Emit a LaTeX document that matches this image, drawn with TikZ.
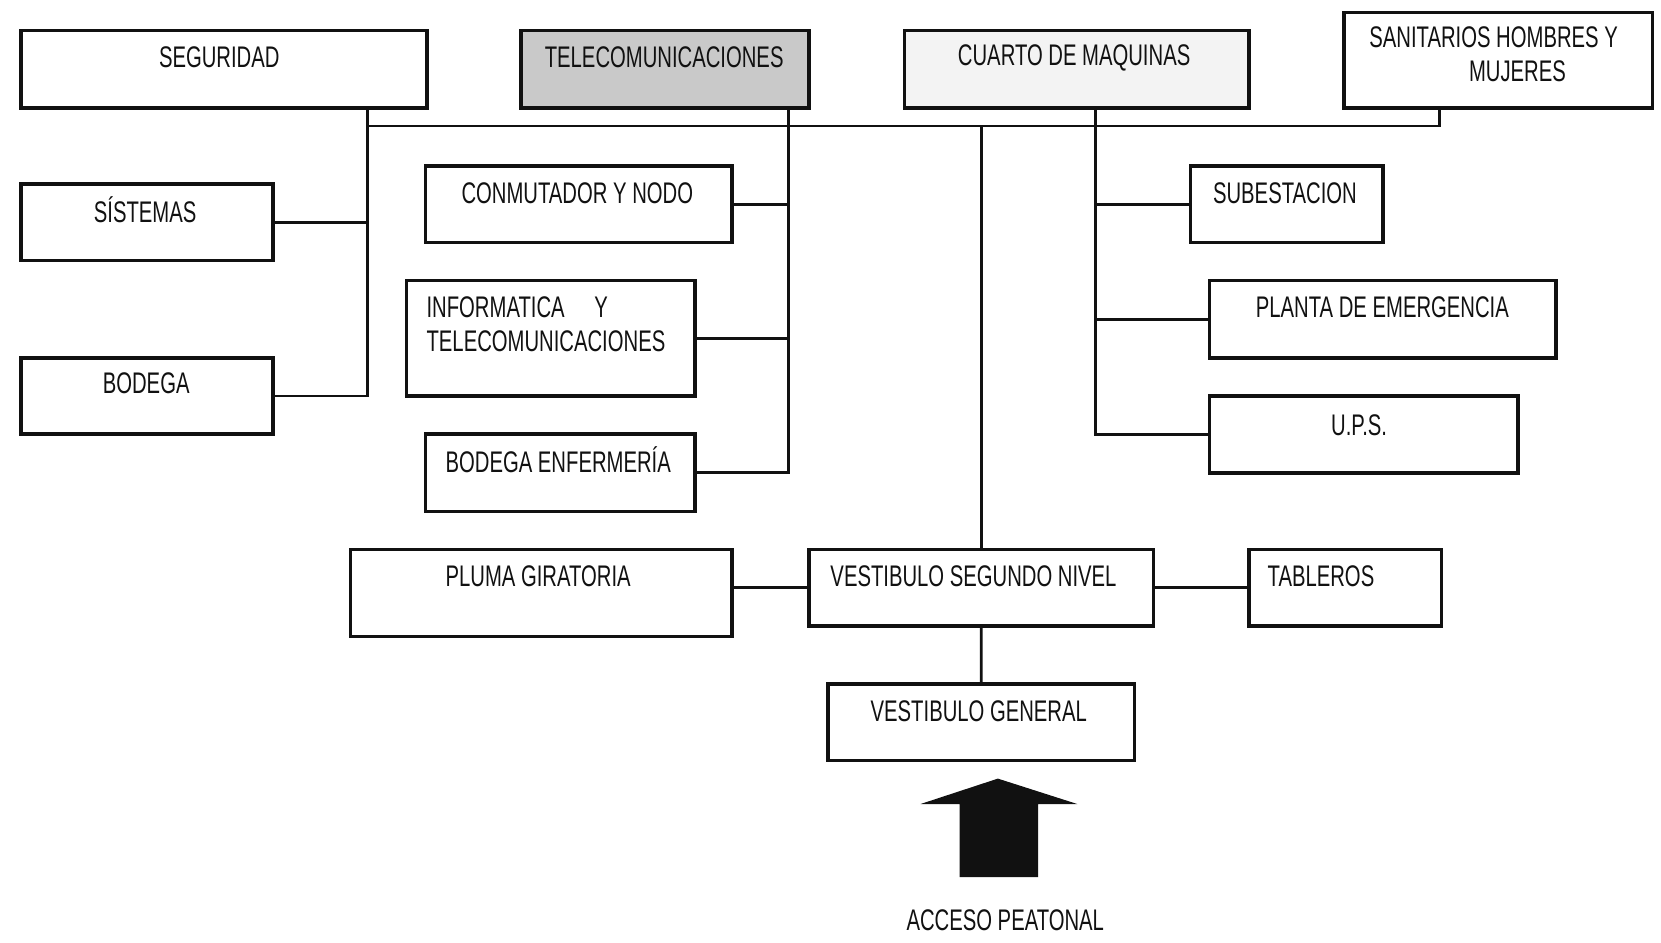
\documentclass[tikz,border=0pt]{standalone}
\usepackage{fontspec}
\setmainfont{Liberation Sans}[FakeStretch=0.68]
\usepackage{tikz}
\usetikzlibrary{positioning,calc}
\definecolor{ink}{HTML}{111111}
\definecolor{stippleD}{HTML}{C9C9C9}
\definecolor{stippleL}{HTML}{F3F3F3}
\begin{document}
\begin{tikzpicture}[x=0.01cm,y=-0.01cm,
    box/.style={draw=ink,line width=1pt,anchor=north west,inner sep=0pt},
    wire/.style={draw=ink,line width=0.75pt},
    lbl/.style={font=\fontsize{8}{9.2}\selectfont,text=ink,inner sep=0pt},
    entry/.style={fill=ink}
]
\useasboundingbox (0,0) rectangle (1568,890);
% boxes
\node[box,minimum width=3.83cm,minimum height=0.73cm] (seg) at (18,27) {};
\node[box,fill=stippleD,minimum width=2.72cm,minimum height=0.73cm] (tel) at (490,27) {};
\node[box,fill=stippleL,minimum width=3.25cm,minimum height=0.73cm] (cua) at (852,27) {};
\node[box,minimum width=2.91cm,minimum height=0.90cm] (san) at (1267,10) {};
\node[box,minimum width=2.38cm,minimum height=0.72cm] (sis) at (18,172) {};
\node[box,minimum width=2.38cm,minimum height=0.72cm] (bod) at (18,336) {};
\node[box,minimum width=2.89cm,minimum height=0.72cm] (con) at (400,155) {};
\node[box,minimum width=2.72cm,minimum height=1.09cm] (inf) at (382,263) {};
\node[box,minimum width=2.54cm,minimum height=0.73cm] (bde) at (400,408) {};
\node[box,minimum width=1.82cm,minimum height=0.72cm] (sub) at (1122,155) {};
\node[box,minimum width=3.27cm,minimum height=0.73cm] (pla) at (1140,263) {};
\node[box,minimum width=2.91cm,minimum height=0.73cm] (ups) at (1140,372) {};
\node[box,minimum width=3.60cm,minimum height=0.82cm] (plu) at (329,517) {};
\node[box,minimum width=3.25cm,minimum height=0.72cm] (vs2) at (762,517) {};
\node[box,minimum width=1.82cm,minimum height=0.72cm] (tab) at (1177,517) {};
\node[box,minimum width=2.89cm,minimum height=0.72cm] (vge) at (780,644) {};
% texts
\node[lbl] (segT) at (207,54) {SEGURIDAD};
\node[lbl] (telT) at (627,54) {TELECOMUNICACIONES};
\node[lbl] (cuaT) at (1014,55) {CUARTO DE MAQUINAS};
\node[lbl,align=center] (sanT) at (1410,51) {SANITARIOS HOMBRES Y\\\hspace*{1.6em}MUJERES};
\node[lbl] (sisT) at (137,198) {SÍSTEMAS};
\node[lbl] (bodT) at (138,362) {BODEGA};
\node[lbl] (conT) at (545,182) {CONMUTADOR Y NODO};
\node[lbl,align=left,anchor=west] (infT) at (402,306) {INFORMATICA\quad Y\\TELECOMUNICACIONES};
\node[lbl] (bdeT) at (527,434) {BODEGA ENFERMERÍA};
\node[lbl] (subT) at (1213,182) {SUBESTACION};
\node[lbl] (plaT) at (1305,290) {PLANTA DE EMERGENCIA};
\node[lbl] (upsT) at (1283,401) {U.P.S.};
\node[lbl] (pluT) at (508,544) {PLUMA GIRATORIA};
\node[lbl] (vs2T) at (919,544) {VESTIBULO SEGUNDO NIVEL};
\node[lbl] (tabT) at (1247,544) {TABLEROS};
\node[lbl] (vgeT) at (924,671) {VESTIBULO GENERAL};
\node[lbl] (accT) at (949,869) {ACCESO PEATONAL};
% connectors
\coordinate (busL) at (347,119);
\coordinate (busR) at (1359,119);
\coordinate (telx) at (744,119);
\coordinate (cuax) at (1034,119);
\draw[wire] (busL) -- (busR) -- (busR |- san.south);
\draw[wire] (busL |- seg.south) -- (busL |- bod.east) -- (bod.east);
\draw[wire] (sis.east) -- (sis.east -| busL);
\draw[wire] (telx |- tel.south) -- (telx |- bde.east) -- (bde.east);
\draw[wire] (con.east) -- (con.east -| telx);
\draw[wire] (inf.east) -- (inf.east -| telx);
\draw[wire] (cuax |- cua.south) -- (cuax |- ups.west) -- (ups.west);
\draw[wire] (sub.west) -- (sub.west -| cuax);
\draw[wire] (pla.west) -- (pla.west -| cuax);
\draw[wire] (vs2.north |- busL) -- (vs2.north);
\draw[wire] (vs2.south) -- (vge.north);
\draw[wire] (vs2.west) -- (vs2.west -| plu.east);
\draw[wire] (vs2.east) -- (tab.west);
% entrance arrow
\fill[entry] (942,735) -- (1017,759) -- (980,759) -- (980,828) -- (906,828) -- (906,759) -- (869,759) -- cycle;
\end{tikzpicture}
\end{document}
